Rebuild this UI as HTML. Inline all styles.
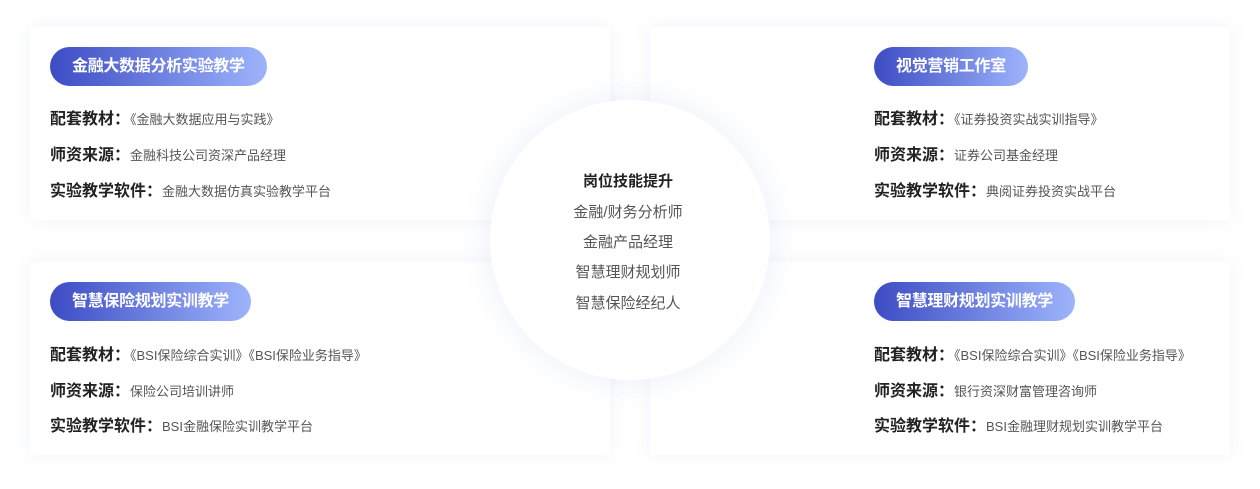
<!DOCTYPE html>
<html><head><meta charset="utf-8"><style>
*{margin:0;padding:0;box-sizing:border-box}
body{width:1260px;height:489px;background:#fff;position:relative;overflow:hidden;font-family:"Liberation Sans","Noto Sans CJK SC",sans-serif}
.card{position:absolute;width:580px;height:193px;background:#fff;box-shadow:0 0 18px rgba(90,110,200,0.08)}
.pill{position:absolute;height:39px;border-radius:20px;background:linear-gradient(90deg,#3d4cc4,#9db4fb);color:#fff;font-weight:bold;font-size:16px;line-height:39px;padding:0 22px;white-space:nowrap;letter-spacing:-0.3px}
.row{position:absolute;white-space:nowrap;line-height:20px}
.row b{font-size:16px;color:#222}
.row span{font-size:13px;color:#555}
.circle{position:absolute;left:490px;top:100px;width:280px;height:280px;border-radius:50%;background:#fff;box-shadow:0 0 24px 8px rgba(90,110,210,0.07)}
.c{position:absolute;left:488px;width:280px;text-align:center;font-size:15px;color:#555;line-height:20px}
</style></head><body>
<div class="card" style="left:30px;top:27px"></div>
<div class="card" style="left:650px;top:27px"></div>
<div class="card" style="left:30px;top:262px"></div>
<div class="card" style="left:650px;top:262px"></div>
<div class="circle"></div>

<div class="pill" style="left:50px;top:47px">金融大数据分析实验教学</div>
<div class="row" style="left:50px;top:110px"><b>配套教材：</b><span>《金融大数据应用与实践》</span></div>
<div class="row" style="left:50px;top:146px"><b>师资来源：</b><span>金融科技公司资深产品经理</span></div>
<div class="row" style="left:50px;top:182px"><b>实验教学软件：</b><span>金融大数据仿真实验教学平台</span></div>

<div class="pill" style="left:874px;top:47px">视觉营销工作室</div>
<div class="row" style="left:874px;top:110px"><b>配套教材：</b><span>《证券投资实战实训指导》</span></div>
<div class="row" style="left:874px;top:146px"><b>师资来源：</b><span>证券公司基金经理</span></div>
<div class="row" style="left:874px;top:182px"><b>实验教学软件：</b><span>典阅证券投资实战平台</span></div>

<div class="pill" style="left:50px;top:282px">智慧保险规划实训教学</div>
<div class="row" style="left:50px;top:346px"><b>配套教材：</b><span>《BSI保险综合实训》《BSI保险业务指导》</span></div>
<div class="row" style="left:50px;top:382px"><b>师资来源：</b><span>保险公司培训讲师</span></div>
<div class="row" style="left:50px;top:417px"><b>实验教学软件：</b><span>BSI金融保险实训教学平台</span></div>

<div class="pill" style="left:874px;top:282px">智慧理财规划实训教学</div>
<div class="row" style="left:874px;top:346px"><b>配套教材：</b><span>《BSI保险综合实训》《BSI保险业务指导》</span></div>
<div class="row" style="left:874px;top:382px"><b>师资来源：</b><span>银行资深财富管理咨询师</span></div>
<div class="row" style="left:874px;top:417px"><b>实验教学软件：</b><span>BSI金融理财规划实训教学平台</span></div>

<div class="c" style="top:172px;font-weight:bold;color:#222">岗位技能提升</div>
<div class="c" style="top:203px">金融/财务分析师</div>
<div class="c" style="top:233px">金融产品经理</div>
<div class="c" style="top:263px">智慧理财规划师</div>
<div class="c" style="top:294px">智慧保险经纪人</div>
</body></html>
